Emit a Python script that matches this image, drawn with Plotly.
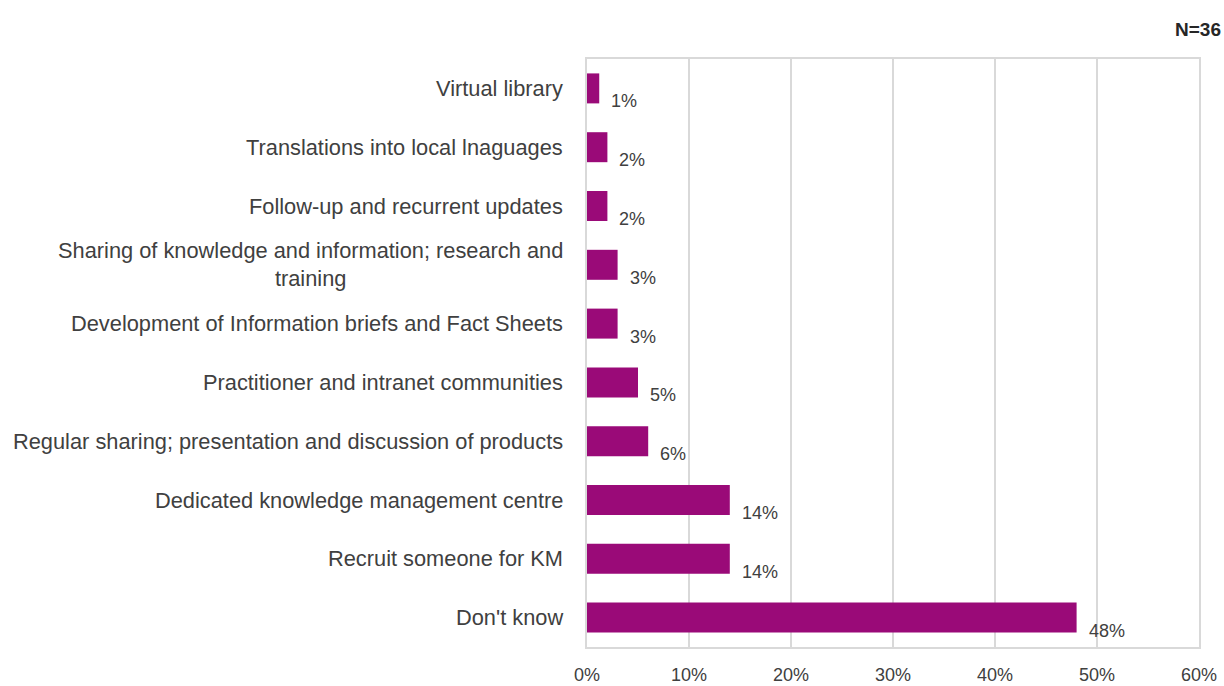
import plotly.graph_objects as go

categories = [
    "Virtual library",
    "Translations into local lnaguages",
    "Follow-up and recurrent updates",
    "Sharing of knowledge and information; research and<br>training",
    "Development of Information briefs and Fact Sheets",
    "Practitioner and intranet communities",
    "Regular sharing; presentation and discussion of products",
    "Dedicated knowledge management centre",
    "Recruit someone for KM",
    "Don't know",
]
values = [1.2, 2, 2, 3, 3, 5, 6, 14, 14, 48]
value_labels = ["1%", "2%", "2%", "3%", "3%", "5%", "6%", "14%", "14%", "48%"]
tick_vals = [0, 10, 20, 30, 40, 50, 60]
tick_text = ["0%", "10%", "20%", "30%", "40%", "50%", "60%"]

FONT = "Liberation Sans"
BAR = "#9A0A78"
TXT = "#404040"

fig = go.Figure(go.Bar(
    x=values, y=categories, orientation="h",
    marker=dict(color=BAR, line=dict(width=0)),
    width=0.51, hoverinfo="skip",
))

ann = []
for c, v, t in zip(categories, values, value_labels):
    ann.append(dict(x=v, y=c, xref="x", yref="y", text=t, showarrow=False,
                    xanchor="left", yanchor="middle", xshift=10, yshift=-13,
                    font=dict(family=FONT, size=18, color=TXT)))
    ann.append(dict(x=0, y=c, xref="x", yref="y", text=c, showarrow=False,
                    xanchor="right", yanchor="middle", xshift=-22, align="center",
                    font=dict(family=FONT, size=21.8, color=TXT)))
ann.append(dict(x=1.0, y=1.0, xref="paper", yref="paper", text="<b>N=36</b>",
                showarrow=False, xanchor="right", yanchor="bottom", xshift=24, yshift=17,
                font=dict(family=FONT, size=19, color="#262626")))

fig.update_layout(
    width=1224, height=686,
    margin=dict(l=587, r=25, t=59, b=39, autoexpand=False),
    plot_bgcolor="white", paper_bgcolor="white",
    showlegend=False,
    annotations=ann,
    xaxis=dict(range=[0, 60], tickvals=tick_vals, ticktext=tick_text,
               showgrid=True, gridcolor="#D9D9D9", gridwidth=1.5,
               zeroline=False, showline=True, linecolor="#D9D9D9", linewidth=1.5,
               mirror=True, ticks="", ticklabelstandoff=11, automargin=False,
               tickfont=dict(family=FONT, size=18, color=TXT)),
    yaxis=dict(autorange="reversed", showticklabels=False, showgrid=False,
               zeroline=False, showline=True, linecolor="#D9D9D9", linewidth=1.5,
               mirror=True, ticks="", automargin=False),
)

fig.write_html("out.html", config={"displayModeBar": False},
               post_script="document.body.style.margin='0px';")
